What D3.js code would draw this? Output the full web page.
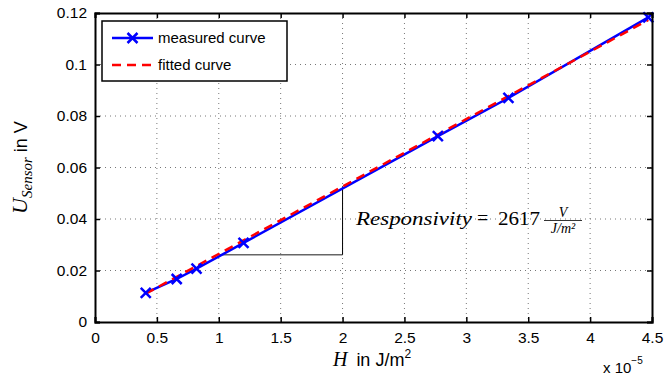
<!DOCTYPE html>
<html>
<head>
<meta charset="utf-8">
<script src="https://cdn.jsdelivr.net/npm/d3@7"></script>
<style>
  body { margin: 0; background: #fff; }
  svg { display: block; }
  text { font-family: "Liberation Sans", Arial, sans-serif; }
  .serif { font-family: "Liberation Serif", "Times New Roman", serif; font-style: italic; }
</style>
</head>
<body>
<div id="chart"></div>
<script>
// measured points (H in 1e-5 J/m^2, U in V)
var measuredH = [0.41, 0.66, 0.82, 1.20, 2.77, 3.34, 4.47];
var measuredU = [0.0113, 0.0167, 0.0207, 0.0307, 0.0722, 0.0870, 0.1183];
// fitted curve end points
var fittedH = [0.41, 4.47];
var fittedU = [0.0110, 0.1173];
// slope triangle corners
var triH = [1.0, 2.0, 2.0];
var triU = [0.0261, 0.0261, 0.0527];
var xTicks = [0, 0.5, 1, 1.5, 2, 2.5, 3, 3.5, 4, 4.5];
var yTicks = [0, 0.02, 0.04, 0.06, 0.08, 0.1, 0.12];
var seriesNames = ["measured curve", "fitted curve"];

var width = 664, height = 376;
var margin = { left: 95, right: 12, top: 13, bottom: 54 };
var plotW = width - margin.left - margin.right;
var plotH = height - margin.top - margin.bottom;

var svg = d3.select("#chart").append("svg")
    .attr("width", width)
    .attr("height", height);

var g = svg.append("g")
    .attr("transform", "translate(" + margin.left + "," + margin.top + ")");

var x = d3.scaleLinear().domain([0, 4.5]).range([0, plotW]);
var y = d3.scaleLinear().domain([0, 0.12]).range([plotH, 0]);

// grid
g.selectAll(".gx").data(xTicks.slice(1, -1)).enter().append("line")
    .attr("x1", function(d) { return x(d); })
    .attr("x2", function(d) { return x(d); })
    .attr("y1", 0).attr("y2", plotH)
    .attr("stroke", "#777").attr("stroke-width", 1)
    .attr("stroke-dasharray", "1,4");
g.selectAll(".gy").data(yTicks.slice(1, -1)).enter().append("line")
    .attr("y1", function(d) { return y(d); })
    .attr("y2", function(d) { return y(d); })
    .attr("x1", 0).attr("x2", plotW)
    .attr("stroke", "#777").attr("stroke-width", 1)
    .attr("stroke-dasharray", "1,4");

// slope triangle
g.append("line")
    .attr("x1", x(triH[0])).attr("x2", x(triH[1]))
    .attr("y1", y(triU[0])).attr("y2", y(triU[1]))
    .attr("stroke", "#666").attr("stroke-width", 1.5);
g.append("line")
    .attr("x1", x(triH[1])).attr("x2", x(triH[2]))
    .attr("y1", y(triU[1])).attr("y2", y(triU[2]))
    .attr("stroke", "#000").attr("stroke-width", 1);

// curves
var line = d3.line()
    .x(function(d) { return x(d[0]); })
    .y(function(d) { return y(d[1]); });
var measured = measuredH.map(function(h, i) { return [h, measuredU[i]]; });
var fitted = fittedH.map(function(h, i) { return [h, fittedU[i]]; });

g.append("path")
    .attr("d", line(measured))
    .attr("fill", "none").attr("stroke", "#0000ff").attr("stroke-width", 2.5);

g.append("path")
    .attr("d", line(fitted))
    .attr("fill", "none").attr("stroke", "#ff0000").attr("stroke-width", 2.5)
    .attr("stroke-dasharray", "9,6");

g.selectAll(".mark").data(measured).enter().append("path")
    .attr("transform", function(d) { return "translate(" + x(d[0]) + "," + y(d[1]) + ")"; })
    .attr("d", "M-5,-5L5,5M-5,5L5,-5")
    .attr("stroke", "#0000ff").attr("stroke-width", 2.5).attr("fill", "none");

// axes (ticks inward)
var axB = g.append("g").attr("transform", "translate(0," + plotH + ")")
    .call(d3.axisBottom(x).tickValues(xTicks).tickSize(-5).tickPadding(10).tickFormat(d3.format("")));
var axL = g.append("g")
    .call(d3.axisLeft(y).tickValues(yTicks).tickSize(-5).tickPadding(8).tickFormat(d3.format("")));
var axT = g.append("g")
    .call(d3.axisTop(x).tickValues(xTicks).tickSize(-5).tickFormat(""));
var axR = g.append("g").attr("transform", "translate(" + plotW + ",0)")
    .call(d3.axisRight(y).tickValues(yTicks).tickSize(-5).tickFormat(""));
[axB, axL, axT, axR].forEach(function(a) {
    a.select(".domain").attr("stroke", "#000").attr("stroke-width", 2);
    a.selectAll(".tick line").attr("stroke", "#000").attr("stroke-width", 1.5);
    a.selectAll("text").attr("font-size", 15.5).attr("fill", "#000")
        .style("font-family", "'Liberation Sans', Arial, sans-serif");
});

// annotation
svg.append("text").attr("class", "serif")
    .attr("x", 356).attr("y", 225).attr("font-size", 18)
    .attr("textLength", 116).attr("lengthAdjust", "spacingAndGlyphs")
    .text("Responsivity");
svg.append("text")
    .attr("x", 477).attr("y", 225).attr("font-size", 20)
    .style("font-family", "'Liberation Serif', serif")
    .text("=");
svg.append("text")
    .attr("x", 498).attr("y", 225).attr("font-size", 19)
    .attr("textLength", 42).attr("lengthAdjust", "spacingAndGlyphs")
    .style("font-family", "'Liberation Serif', serif")
    .text("2617");
svg.append("text").attr("class", "serif").attr("x", 563).attr("y", 217)
    .attr("text-anchor", "middle").attr("font-size", 14).text("V");
svg.append("line").attr("x1", 544).attr("x2", 582).attr("y1", 220.5).attr("y2", 220.5)
    .attr("stroke", "#000").attr("stroke-width", 0.8);
svg.append("text").attr("class", "serif").attr("x", 563).attr("y", 233)
    .attr("text-anchor", "middle").attr("font-size", 14).text("J/m²");

// axis labels
var xl = svg.append("text")
    .attr("x", 372).attr("y", 366)
    .attr("text-anchor", "middle").attr("font-size", 18);
xl.append("tspan").attr("class", "serif").attr("font-size", 20).text("H");
xl.append("tspan").text("\u2002in J/m");
xl.append("tspan").attr("font-size", 12).attr("dy", -8).text("2");

var yl = svg.append("text")
    .attr("transform", "translate(27," + (margin.top + plotH / 2) + ") rotate(-90)")
    .attr("text-anchor", "middle").attr("font-size", 18);
yl.append("tspan").attr("class", "serif").attr("font-size", 22).text("U");
yl.append("tspan").attr("class", "serif").attr("font-size", 15).attr("dy", 5).text("Sensor");
yl.append("tspan").attr("dy", -5).text(" in V");

var ex = svg.append("text").attr("x", 603).attr("y", 373).attr("font-size", 15);
ex.append("tspan").text("x 10");
ex.append("tspan").attr("font-size", 10).attr("dy", -9).text("−5");

// legend
var lg = svg.append("g").attr("transform", "translate(102,21)");
lg.append("rect").attr("width", 185).attr("height", 60)
    .attr("fill", "#fff").attr("stroke", "#000").attr("stroke-width", 1.5);
seriesNames.forEach(function(name, i) {
    var yy = 17 + i * 27;
    lg.append("line").attr("x1", 10).attr("x2", 51).attr("y1", yy).attr("y2", yy)
        .attr("stroke", i == 0 ? "#0000ff" : "#ff0000").attr("stroke-width", 2.5)
        .attr("stroke-dasharray", i == 0 ? null : "9,6");
    if (i == 0) {
        lg.append("path").attr("transform", "translate(30.5," + yy + ")")
            .attr("d", "M-5,-5L5,5M-5,5L5,-5")
            .attr("stroke", "#0000ff").attr("stroke-width", 2.5);
    }
    lg.append("text").attr("x", 56).attr("y", yy + 5).attr("font-size", 15).text(name);
});
</script>
</body>
</html>
